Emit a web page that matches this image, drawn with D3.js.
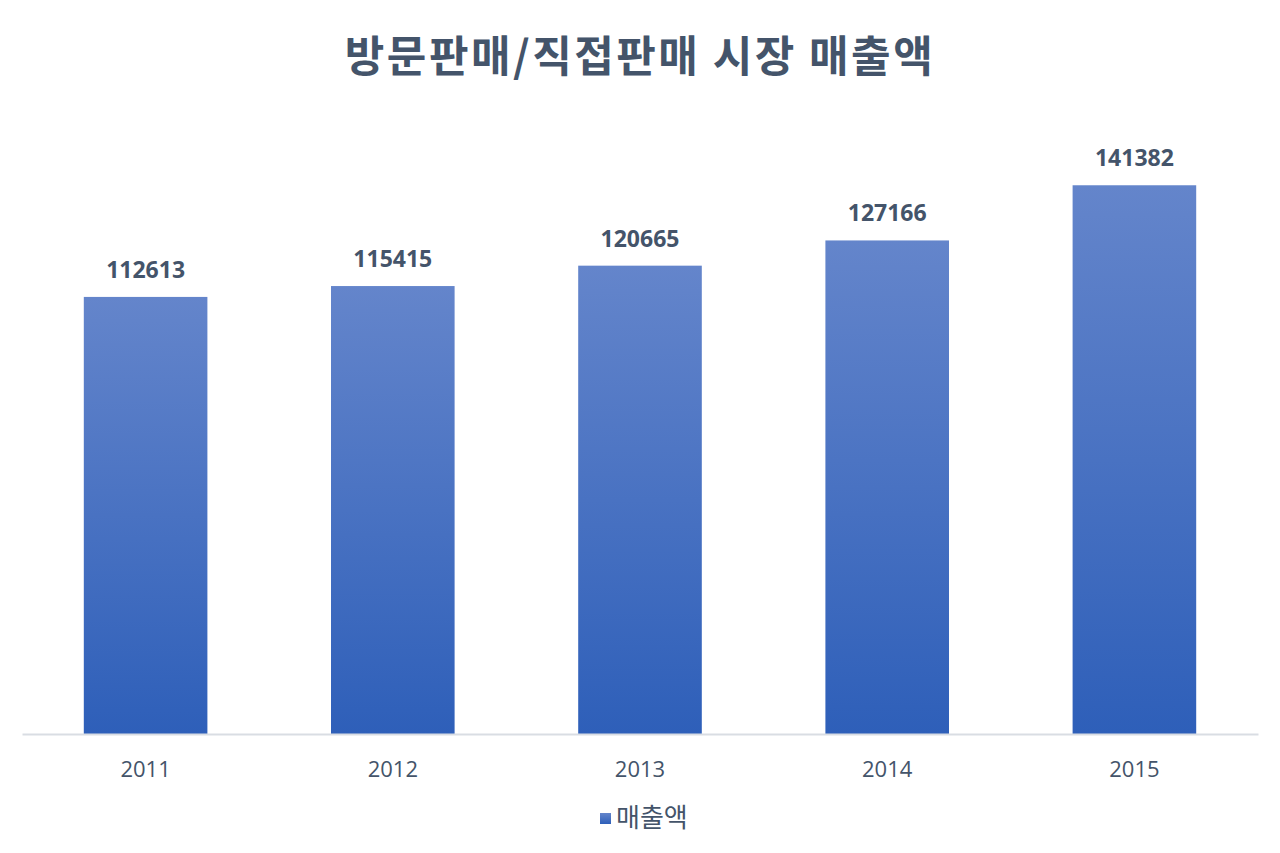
<!DOCTYPE html>
<html><head><meta charset="utf-8">
<script src="https://cdn.jsdelivr.net/npm/d3@7"></script>
<style>body{margin:0;background:#fff;} svg{display:block;font-family:"Noto Sans CJK KR","Noto Sans",sans-serif;}</style>
</head><body>
<svg id="c" width="1280" height="853"></svg>
<script>
const categories = ["2011","2012","2013","2014","2015"];
const values = [112613,115415,120665,127166,141382];
const seriesName = "매출액";
const title = "방문판매/직접판매 시장 매출액";

const svg = d3.select("#c");
const W=1280,H=853;
const m={left:22,right:22,top:113,bottom:119};
const x=d3.scaleBand().domain(categories).range([m.left,W-m.right]).paddingInner(0.5).paddingOuter(0.25);
const y=d3.scaleLinear().domain([0,160000]).range([H-m.bottom,m.top]);
const textCol="#44546a";
const numFont="'Open Sans','Noto Sans',sans-serif";

const defs=svg.append("defs");
const g=defs.append("linearGradient").attr("id","grad").attr("x1",0).attr("y1",0).attr("x2",0).attr("y2",1);
g.append("stop").attr("offset","0%").attr("stop-color","#6485cb");
g.append("stop").attr("offset","100%").attr("stop-color","#2e5fb9");

svg.append("text").attr("x",W/2).attr("y",72).attr("text-anchor","middle")
  .attr("font-size",43).attr("font-weight","bold").attr("letter-spacing",2.5).attr("fill",textCol).text(title);

svg.append("g").selectAll("rect").data(values).join("rect")
  .attr("x",(d,i)=>x(categories[i])).attr("width",x.bandwidth())
  .attr("y",d=>y(d)).attr("height",d=>y(0)-y(d)).attr("fill","url(#grad)");

svg.append("g").selectAll("text").data(values).join("text")
  .attr("x",(d,i)=>x(categories[i])+x.bandwidth()/2).attr("y",d=>y(d)-19)
  .attr("text-anchor","middle").attr("font-size",23).attr("font-weight","bold").attr("fill",textCol)
  .attr("font-family",numFont).text(d=>d);

const ax=svg.append("g").attr("transform",`translate(0,${y(0)})`).call(d3.axisBottom(x).tickSize(0).tickPadding(27));
ax.select(".domain").attr("stroke","#d9dde3").attr("stroke-width",2);
ax.selectAll("text").attr("font-size",22).attr("fill",textCol).attr("font-family",numFont);

const lg=svg.append("g").attr("transform","translate(600,813)");
lg.append("rect").attr("x",0).attr("y",0).attr("width",11).attr("height",11).attr("fill","url(#grad)");
lg.append("text").attr("x",16).attr("y",14).attr("font-size",26).attr("fill",textCol).text(seriesName);
</script>
</body></html>
